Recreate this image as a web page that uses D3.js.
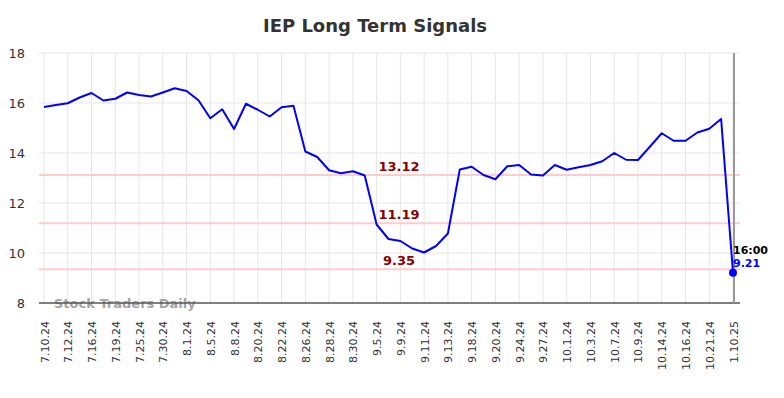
<!DOCTYPE html>
<html>
<head>
<meta charset="utf-8">
<script src="https://cdn.jsdelivr.net/npm/d3@7"></script>
<style>
  html, body { margin: 0; padding: 0; background: #fff; }
  svg { display: block; font-family: "DejaVu Sans", sans-serif; }
</style>
</head>
<body>
<svg id="chart" width="784" height="398"></svg>
<script>
// ---- data ----
const title = "IEP Long Term Signals";
const tickLabels = ["7.10.24","7.12.24","7.16.24","7.19.24","7.25.24","7.30.24","8.1.24","8.5.24","8.8.24","8.20.24",
  "8.22.24","8.26.24","8.28.24","8.30.24","9.5.24","9.9.24","9.11.24","9.13.24","9.18.24","9.20.24",
  "9.24.24","9.27.24","10.1.24","10.3.24","10.7.24","10.9.24","10.14.24","10.16.24","10.21.24","1.10.25"];
const prices = [15.84,15.92,15.99,16.22,16.40,16.10,16.17,16.42,16.32,16.26,
  16.42,16.59,16.48,16.11,15.39,15.75,14.96,15.97,15.73,15.46,
  15.83,15.89,14.06,13.84,13.31,13.19,13.27,13.10,11.14,10.56,
  10.48,10.18,10.02,10.28,10.78,13.34,13.45,13.12,12.95,13.47,
  13.52,13.14,13.10,13.52,13.33,13.43,13.52,13.67,14.00,13.73,
  13.72,14.25,14.79,14.49,14.49,14.82,14.97,15.36,9.21];
const levels = [13.12, 11.19, 9.35];
const yTicks = [8, 10, 12, 14, 16, 18];
const lastTime = "16:00";
const lastValue = 9.21;

// ---- layout ----
const svg = d3.select("#chart");
const plot = { left: 39, right: 740, top: 53, bottom: 303 };

const x = d3.scaleLinear().domain([0, prices.length - 1]).range([44, 733]);
const y = d3.scaleLinear().domain([8, 18]).range([plot.bottom, plot.top]);

// title
svg.append("text")
  .attr("x", 375).attr("y", 32)
  .attr("text-anchor", "middle")
  .attr("font-size", 18).attr("font-weight", "bold")
  .attr("fill", "#333")
  .text(title);

// horizontal gridlines
svg.append("g").selectAll("line").data(yTicks.slice(1)).join("line")
  .attr("x1", plot.left).attr("x2", plot.right)
  .attr("y1", d => y(d)).attr("y2", d => y(d))
  .attr("stroke", "#e6e6e6").attr("stroke-width", 1);

// vertical gridlines at tick positions
const tickIdx = tickLabels.map((_, i) => i * 2);
svg.append("g").selectAll("line").data(tickIdx).join("line")
  .attr("x1", d => x(d)).attr("x2", d => x(d))
  .attr("y1", plot.top).attr("y2", plot.bottom)
  .attr("stroke", "#e6e6e6").attr("stroke-width", 1);

// y axis labels
const yAxis = d3.axisLeft(y).tickValues(yTicks).tickSize(0).tickPadding(0).tickFormat(d3.format("d"));
const yg = svg.append("g").attr("transform", `translate(25,0)`).call(yAxis);
yg.select(".domain").remove();
yg.selectAll("text").attr("font-size", 13).attr("fill", "#333").attr("font-family", "DejaVu Sans, sans-serif");

// level lines
svg.append("g").selectAll("line").data(levels).join("line")
  .attr("x1", plot.left).attr("x2", plot.right)
  .attr("y1", d => y(d)).attr("y2", d => y(d))
  .attr("stroke", "#ffcccc").attr("stroke-width", 2);

svg.append("g").selectAll("text").data(levels).join("text")
  .attr("x", 399).attr("y", d => y(d) - 4)
  .attr("text-anchor", "middle")
  .attr("font-size", 13).attr("font-weight", "bold")
  .attr("fill", "#8b0000")
  .text(d => d.toFixed(2));

// watermark
svg.append("text")
  .attr("x", 54).attr("y", 308)
  .attr("font-size", 13).attr("font-weight", "bold")
  .attr("fill", "#999").attr("fill-opacity", 0.9)
  .text("Stock Traders Daily");

// x axis line
svg.append("line")
  .attr("x1", plot.left).attr("x2", plot.right)
  .attr("y1", plot.bottom).attr("y2", plot.bottom)
  .attr("stroke", "#555").attr("stroke-width", 1.5);

// x tick labels
const xAxis = d3.axisBottom(x).tickValues(tickIdx).tickSize(0).tickPadding(0)
  .tickFormat((d) => tickLabels[d / 2]);
const xg = svg.append("g").attr("transform", `translate(0,${plot.bottom})`).call(xAxis);
xg.select(".domain").remove();
xg.selectAll("text")
  .attr("font-size", 11).attr("fill", "#333").attr("font-family", "DejaVu Sans, sans-serif")
  .attr("text-anchor", "end")
  .attr("dy", null).attr("y", 0)
  .attr("transform", "translate(4,18) rotate(-90)");

// current vertical marker
svg.append("line")
  .attr("x1", 734).attr("x2", 734)
  .attr("y1", plot.top).attr("y2", plot.bottom)
  .attr("stroke", "#999").attr("stroke-width", 2);

// price line
svg.append("path")
  .datum(prices)
  .attr("fill", "none")
  .attr("stroke", "#0000ff").attr("stroke-width", 2)
  .attr("stroke-linejoin", "round")
  .attr("d", d3.line().x((d, i) => x(i)).y(d => y(d)));

// last point
const li = prices.length - 1;
svg.append("circle")
  .attr("cx", x(li)).attr("cy", y(lastValue)).attr("r", 4)
  .attr("fill", "#0000ff");

svg.append("text")
  .attr("x", x(li)).attr("y", y(lastValue) - 19)
  .attr("font-size", 11).attr("font-weight", "bold").attr("fill", "#000")
  .text(lastTime);
svg.append("text")
  .attr("x", x(li)).attr("y", y(lastValue) - 6)
  .attr("font-size", 11).attr("font-weight", "bold").attr("fill", "#0000ff")
  .text(lastValue.toFixed(2));
</script>
</body>
</html>
